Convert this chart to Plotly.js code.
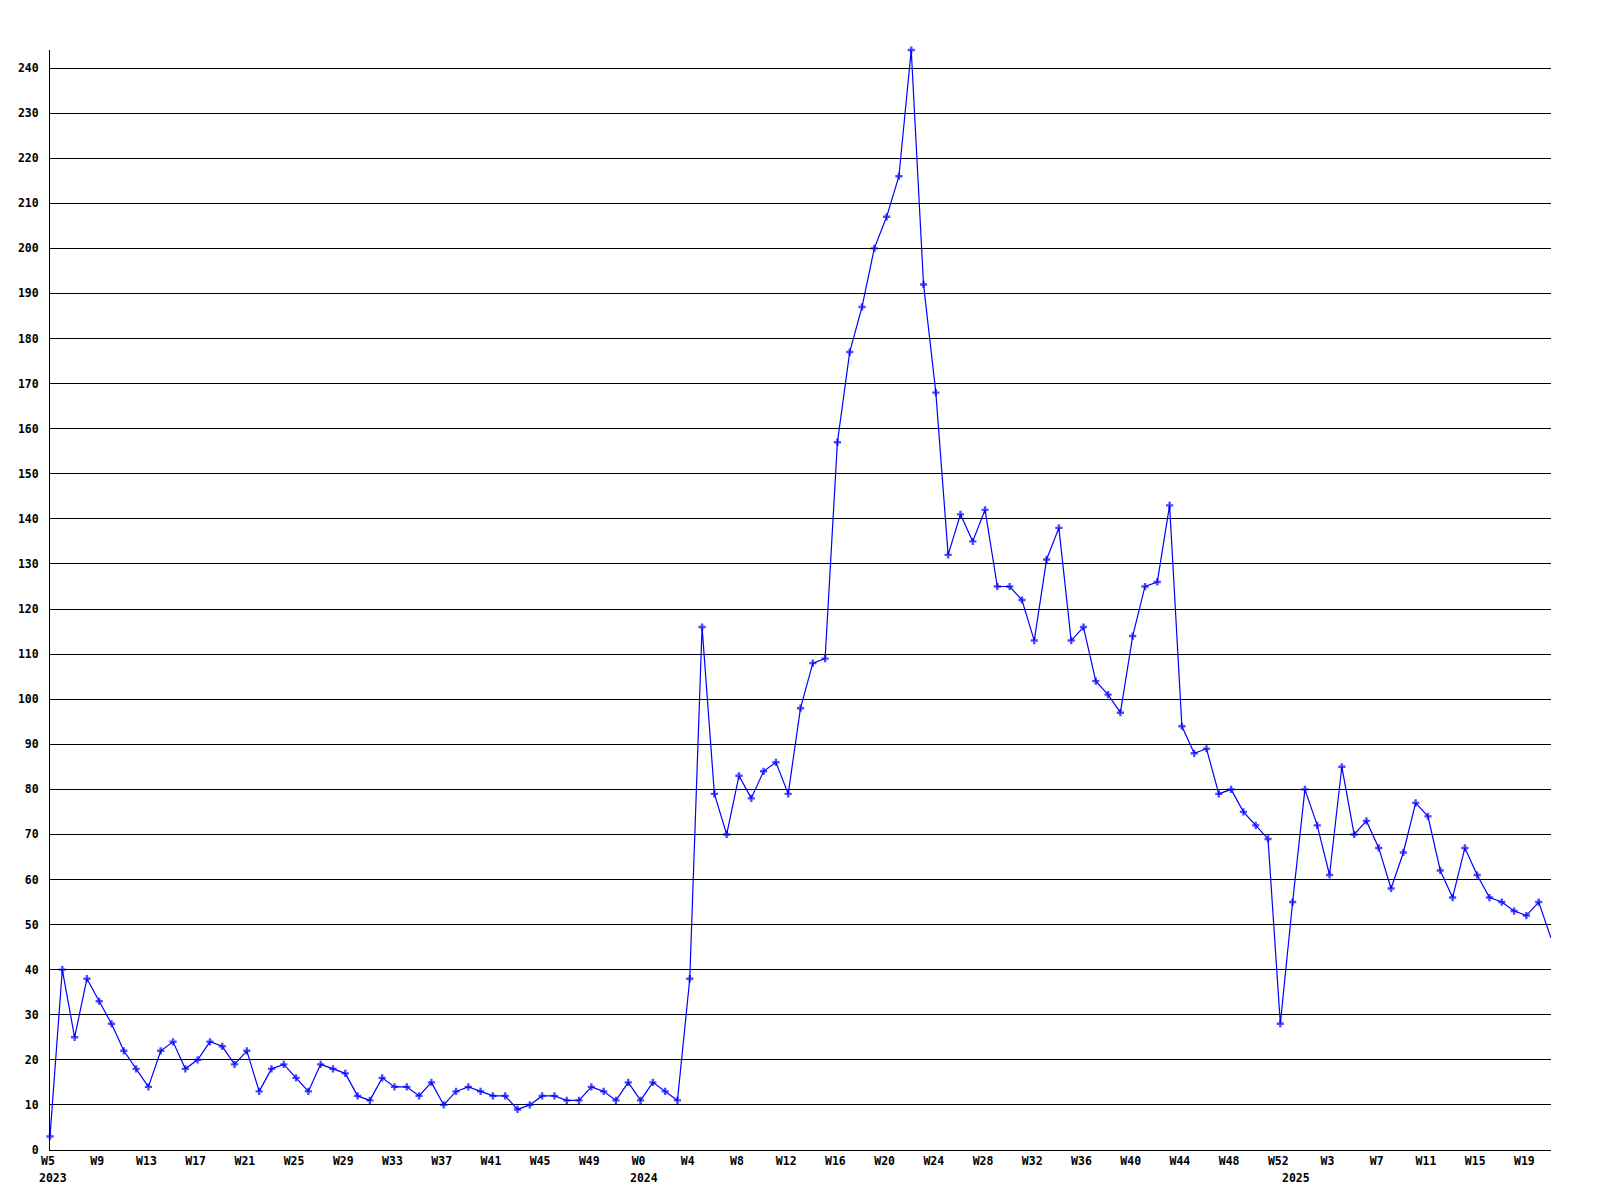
<!DOCTYPE html>
<html>
<head>
<meta charset="utf-8">
<script src="https://cdn.plot.ly/plotly-3.0.1.min.js"></script>
<style>html,body{margin:0;padding:0;background:#fff;}</style>
</head>
<body>
<div id="chart" style="width:1600px;height:1200px;"></div>
<script>
// Week numbers shown on the x axis, per year
const weeks2023 = [5,6,7,8,9,10,11,12,13,14,15,16,17,18,19,20,21,22,23,24,25,26,27,28,29,30,31,32,33,34,35,36,37,38,39,40,41,42,43,44,45,46,47,48,49,50,51,52];
const weeks2024 = [0,1,2,3,4,5,6,7,8,9,10,11,12,13,14,15,16,17,18,19,20,21,22,23,24,25,26,27,28,29,30,31,32,33,34,35,36,37,38,39,40,41,42,43,44,45,46,47,48,49,50,51,52];
const weeks2025 = [0,1,2,3,4,5,6,7,8,9,10,11,12,13,14,15,16,17,18,19,20,21];
const years = [2023, 2024, 2025];

// Weekly values
const values = [
  3,40,25,38,33,28,22,18,14,22,24,18,20,24,23,19,22,13,18,19,16,13,19,18,17,12,11,
  16,14,14,12,15,10,13,14,13,12,12,9,10,12,12,11,11,14,13,11,15,11,15,13,11,
  38,116,79,70,83,78,84,86,79,98,108,109,
  157,177,187,200,207,216,244,192,168,132,141,135,142,125,
  125,122,113,131,138,113,116,104,101,97,114,125,126,143,94,
  88,89,79,80,75,72,69,28,55,80,72,61,85,70,73,67,58,
  66,77,74,62,56,67,61,56,55,53,52,55,47
];

const yTicks = [0,10,20,30,40,50,60,70,80,90,100,110,120,130,140,150,160,170,180,190,200,210,220,230,240];

// Build categories
const weekLists = [weeks2023, weeks2024, weeks2025];
const categories = [];
const weekNums = [];
const yearStarts = [];
weekLists.forEach((wl, yi) => {
  yearStarts.push(years[yi] + ' W' + wl[0]);
  wl.forEach(w => { categories.push(years[yi] + ' W' + w); weekNums.push(w); });
});
const tickvals = [], ticktext = [];
for (let i = 0; i < categories.length; i += 4) { tickvals.push(categories[i]); ticktext.push('W' + weekNums[i]); }

const markerSizes = values.map((v, i) => i === values.length - 1 ? 0 : 6);

const font = {family: 'DejaVu Sans Mono, Liberation Mono, monospace', size: 11.5, color: '#000', weight: 'bold'};

const trace = {
  type: 'scatter', mode: 'lines+markers',
  x: categories, y: values,
  line: {color: '#0000ff', width: 1.2},
  marker: {symbol: 'cross', size: markerSizes, color: '#0000ff', line: {width: 0}},
  cliponaxis: false,
  hoverinfo: 'x+y'
};

const annotations = years.map((yr, i) => ({
  x: yearStarts[i], y: 0, xref: 'x', yref: 'paper',
  yanchor: 'top', xanchor: 'center', xshift: 3, yshift: -19,
  text: String(yr), showarrow: false, font: font
}));

const layout = {
  width: 1600, height: 1200,
  margin: {l: 50, r: 49, t: 50, b: 50, pad: 0},
  paper_bgcolor: '#fff', plot_bgcolor: '#fff',
  showlegend: false,
  xaxis: {
    type: 'category', range: [0, categories.length - 1],
    showgrid: false, zeroline: false, showline: true, linecolor: '#000', linewidth: 1,
    tickmode: 'array', tickvals: tickvals, ticktext: ticktext,
    ticks: '', tickfont: font, tickangle: 0, ticklabelstandoff: 0, ticklabelshift: -2
  },
  yaxis: {
    range: [0, 244], tickmode: 'array', tickvals: yTicks,
    showgrid: true, gridcolor: '#000', gridwidth: 1,
    zeroline: false, showline: true, linecolor: '#000', linewidth: 1,
    ticks: '', tickfont: font, ticklabelstandoff: 8
  },
  annotations: annotations
};

Plotly.newPlot('chart', [trace], layout, {displayModeBar: false, staticPlot: true});
</script>
</body>
</html>
